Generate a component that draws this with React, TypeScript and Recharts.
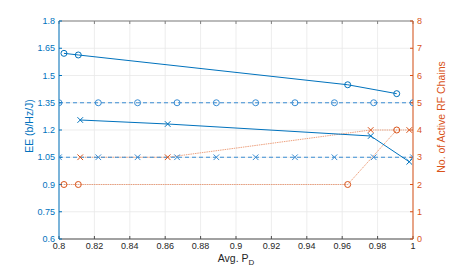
import React from 'react';
import { ComposedChart, Line, XAxis, YAxis, CartesianGrid } from 'recharts';

// measured points (x = avg. P_D)
const xCircle = [0.8028, 0.8109, 0.9631, 0.9908];
const eeCircle = [1.622, 1.613, 1.449, 1.4];
const rfCircle = [2, 2, 2, 4];

const xCross = [0.812, 0.8614, 0.9761, 0.9979];
const eeCross = [1.255, 1.233, 1.167, 1.025];
const rfCross = [3, 3, 4, 4];

const xRef = [0.8, 0.8222, 0.8444, 0.8667, 0.8889, 0.9111, 0.9333, 0.9556, 0.9778, 1.0];
const eeRefCircle = [1.35, 1.35, 1.35, 1.35, 1.35, 1.35, 1.35, 1.35, 1.35, 1.35];
const eeRefCross = [1.05, 1.05, 1.05, 1.05, 1.05, 1.05, 1.05, 1.05, 1.05, 1.05];

const xTicks = [0.8, 0.82, 0.84, 0.86, 0.88, 0.9, 0.92, 0.94, 0.96, 0.98, 1];
const eeTicks = [0.6, 0.75, 0.9, 1.05, 1.2, 1.35, 1.5, 1.65, 1.8];
const rfTicks = [0, 1, 2, 3, 4, 5, 6, 7, 8];

const BLUE = '#0072BD';
const BLUE_DASH = '#3a8dd3';
const ORANGE = '#D95319';
const ORANGE_LINE = '#e98a60';
const FONT = '"Liberation Sans", Arial, sans-serif';

const zip = (xs: number[], ys: number[]) => xs.map((x, i) => ({ x, y: ys[i] }));

const circleDot = (color: string) => (p: any) => (
  <circle key={p.index} cx={p.cx} cy={p.cy} r={3} fill="none" stroke={color} strokeWidth={1} />
);

const crossDot = (color: string) => (p: any) => (
  <path
    key={p.index}
    d={`M${p.cx - 2.8},${p.cy - 2.8}L${p.cx + 2.8},${p.cy + 2.8}M${p.cx - 2.8},${p.cy + 2.8}L${p.cx + 2.8},${p.cy - 2.8}`}
    stroke={color}
    strokeWidth={1}
    fill="none"
  />
);

const LeftTitle = () => (
  <text x={29} y={126} transform="rotate(-90 29 126)" textAnchor="middle" dominantBaseline="central"
    fontSize={10.5} fill={BLUE} fontFamily={FONT}>EE (b/Hz/J)</text>
);

const RightTitle = () => (
  <text x={441} y={117} transform="rotate(-90 441 117)" textAnchor="middle" dominantBaseline="central"
    fontSize={10.5} fill={ORANGE} fontFamily={FONT}>No. of Active RF Chains</text>
);

const BottomTitle = () => (
  <text x={236} y={262} textAnchor="middle" fontSize={10.5} fill="#262626" fontFamily={FONT}>
    Avg. P<tspan dy={3} fontSize={8}>D</tspan>
  </text>
);

export default function App() {
  return (
    <div style={{ position: 'absolute', left: 0, top: 0, background: '#fff' }}>
      <ComposedChart width={457} height={271} margin={{ top: 0, right: 0, bottom: 0, left: 0 }}>
        <CartesianGrid xAxisId="bottom" yAxisId="left" stroke="#e8e8e8" strokeWidth={0.8} />
        <XAxis xAxisId="top" orientation="top" dataKey="x" type="number" domain={[0.8, 1]}
          ticks={xTicks} interval={0} height={21} tickSize={-3} tickFormatter={() => ''}
          stroke="#808080" allowDataOverflow />
        <XAxis xAxisId="bottom" dataKey="x" type="number" domain={[0.8, 1]} ticks={xTicks}
          interval={0} height={32} tickSize={-3} tickMargin={7} stroke="#4d4d4d"
          tick={{ fontSize: 9, fill: '#262626', fontFamily: FONT }} label={<BottomTitle />} allowDataOverflow />
        <YAxis yAxisId="left" type="number" domain={[0.6, 1.8]} ticks={eeTicks} interval={0}
          width={59} tickSize={-3} tickMargin={7} stroke={BLUE}
          tick={{ fontSize: 9, fill: BLUE, fontFamily: FONT }} label={<LeftTitle />} allowDataOverflow />
        <YAxis yAxisId="right" orientation="right" type="number" domain={[0, 8]} ticks={rfTicks}
          interval={0} width={44} tickSize={-3} tickMargin={7} stroke={ORANGE}
          tick={{ fontSize: 9, fill: ORANGE, fontFamily: FONT }} label={<RightTitle />} allowDataOverflow />

        <Line data={zip(xCircle, rfCircle)} dataKey="y" xAxisId="bottom" yAxisId="right" stroke={ORANGE_LINE}
          strokeWidth={0.8} strokeDasharray="1.5 0.8" dot={circleDot(ORANGE)} isAnimationActive={false} />
        <Line data={zip(xCross, rfCross)} dataKey="y" xAxisId="bottom" yAxisId="right" stroke={ORANGE_LINE}
          strokeWidth={0.8} strokeDasharray="1.5 0.8" dot={crossDot(ORANGE)} isAnimationActive={false} />

        <Line data={zip(xRef, eeRefCircle)} dataKey="y" xAxisId="bottom" yAxisId="left" stroke={BLUE_DASH}
          strokeWidth={1} strokeDasharray="4 3" dot={circleDot(BLUE_DASH)} isAnimationActive={false} />
        <Line data={zip(xRef, eeRefCross)} dataKey="y" xAxisId="bottom" yAxisId="left" stroke={BLUE_DASH}
          strokeWidth={1} strokeDasharray="4 3" dot={crossDot(BLUE_DASH)} isAnimationActive={false} />
        <Line data={zip(xCircle, eeCircle)} dataKey="y" xAxisId="bottom" yAxisId="left" stroke={BLUE}
          strokeWidth={1} dot={circleDot(BLUE)} isAnimationActive={false} />
        <Line data={zip(xCross, eeCross)} dataKey="y" xAxisId="bottom" yAxisId="left" stroke={BLUE}
          strokeWidth={1} dot={crossDot(BLUE)} isAnimationActive={false} />
      </ComposedChart>
    </div>
  );
}
